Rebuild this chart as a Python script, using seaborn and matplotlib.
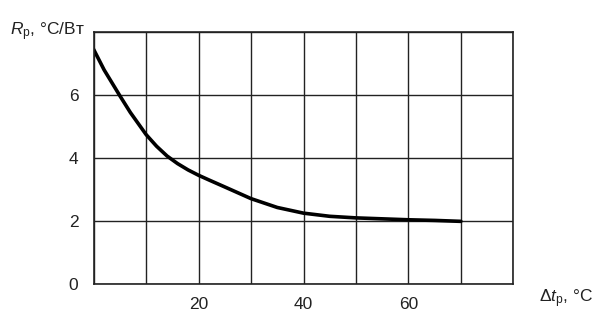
import numpy as np
import pandas as pd
import seaborn as sns
from matplotlib import pyplot as plt

# значения
dt = [0, 2, 5, 7, 10, 12, 14, 16, 18, 20, 22, 25, 30, 35, 40, 45, 50, 55, 60, 65, 70]
rp = [7.45, 6.8, 5.98, 5.45, 4.75, 4.38, 4.07, 3.83, 3.63, 3.46, 3.31, 3.09, 2.72, 2.44, 2.26, 2.16, 2.11, 2.08, 2.05, 2.03, 2.0]
xticks = [20, 40, 60]
yticks = [0, 2, 4, 6]

df = pd.DataFrame({'dt': dt, 'rp': rp})

sns.set_style('white')
plt.rcParams['font.family'] = ['Liberation Sans', 'DejaVu Sans']
plt.rcParams['mathtext.fontset'] = 'custom'
plt.rcParams['mathtext.it'] = 'Liberation Sans:italic'
plt.rcParams['mathtext.rm'] = 'Liberation Sans'

fig = plt.figure(figsize=(6.04, 3.2), dpi=100)
ax = fig.add_axes([0.155, 0.111, 0.695, 0.789])

sns.lineplot(data=df, x='dt', y='rp', ax=ax, color='black', linewidth=2.6)

ax.set_xlim(0, 80)
ax.set_ylim(0, 8)
ax.set_xticks(np.arange(0, 81, 10), minor=True)
ax.set_yticks(np.arange(0, 9, 2), minor=True)
ax.set_xticks(xticks)
ax.set_yticks(yticks)
ax.grid(True, which='both', color='#222222', linewidth=1.0)
ax.tick_params(length=0, labelsize=12.5, colors='#222222', pad=9)
ax.tick_params(axis='y', pad=11)
for s in ax.spines.values():
    s.set_color('#222222')
    s.set_linewidth(1.2)
ax.set_xlabel('')
ax.set_ylabel('')

fig.text(0.017, 0.9, '$R_\\mathrm{p}$, °C/Вт', fontsize=12.5, color='#222222', va='center')
fig.text(0.893, 0.068, '$\\Delta t_\\mathrm{p}$, °C', fontsize=12.5, color='#222222', va='center')

fig.savefig('out.png', dpi=100)
